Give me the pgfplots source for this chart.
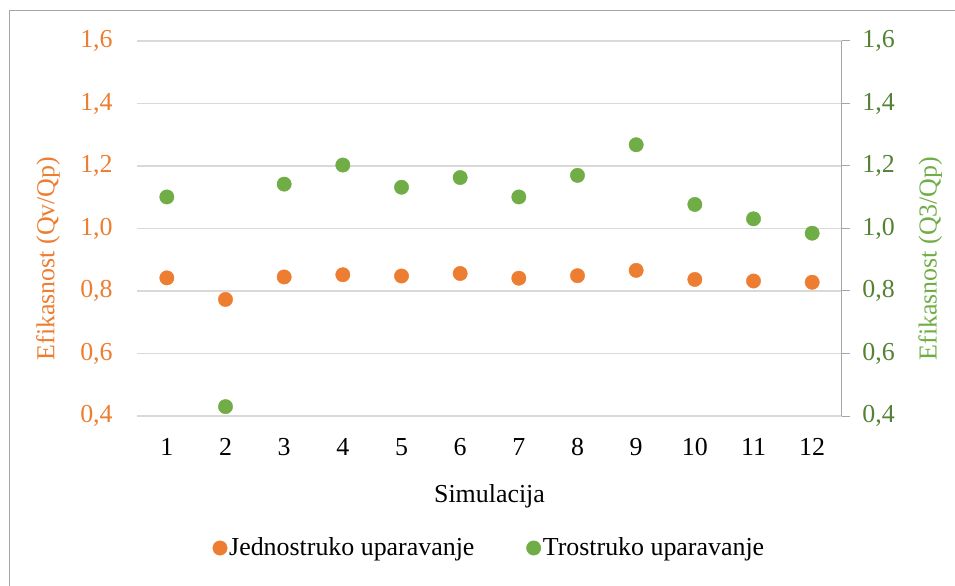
\documentclass[border=0pt]{standalone}
\usepackage{pgfplots}
\pgfplotsset{compat=1.18}
\usepackage{fontspec}
\setmainfont{Liberation Serif}
\definecolor{cOr}{HTML}{ED7D31}
\definecolor{cGr}{HTML}{70AD47}
\definecolor{cGrD}{HTML}{548235}
\definecolor{cGrid}{HTML}{D9D9D9}
\definecolor{cAx}{HTML}{A6A6A6}
\pgfplotstableread{
x y
1 0.842
2 0.773
3 0.845
4 0.852
5 0.848
6 0.856
7 0.841
8 0.849
9 0.866
10 0.837
11 0.832
12 0.828
}\jedno
\pgfplotstableread{
x y
1 1.101
2 0.430
3 1.142
4 1.203
5 1.132
6 1.163
7 1.101
8 1.170
9 1.268
10 1.077
11 1.031
12 0.985
}\tro
\begin{document}
\fontsize{26}{30}\selectfont
\begin{tikzpicture}[x=1bp,y=1bp]
\useasboundingbox (-137.5bp,-170bp) rectangle (817.5bp,416bp);
\draw[cAx, line width=1bp] (-127.5bp,-200bp) rectangle (850bp,405bp);
\pgfplotsset{
  common/.style={
    at={(0,0)}, anchor=south west,
    scale only axis, width=704bp, height=375bp,
    xmin=0.5, xmax=12.5, ymin=0.4, ymax=1.6,
    ytick={0.4,0.6,...,1.6},
    /pgf/number format/.cd, use comma, fixed, fixed zerofill, precision=1, assume math mode=true, /pgfplots/.cd,
    tick label style={font=\fontsize{26}{30}\selectfont},
    label style={font=\fontsize{26}{30}\selectfont},
  }
}
\begin{axis}[common,
  axis y line*=left, axis x line*=bottom,
  y axis line style={draw=none}, x axis line style={draw=none},
  xtick={1,...,12}, xticklabels={1,2,3,4,5,6,7,8,9,10,11,12}, major tick length=0,
  ymajorgrids, grid style={cGrid, line width=1.3bp},
  yticklabel style={text=cOr, xshift=-16bp},
  xticklabel style={text=black, anchor=base, yshift=-39bp},
  xlabel={Simulacija}, xlabel style={at={(0.5,0)}, anchor=base, yshift=-86bp},
  ylabel={Efikasnost (Qv/Qp)}, ylabel style={text=cOr, at={(-0.127,0.42)}, anchor=center},
  legend style={at={(0.5,-0.352)}, anchor=center, draw=none, legend columns=2,
    font=\fontsize{26}{30}\selectfont, /tikz/every even column/.append style={column sep=50bp},
    /tikz/every odd column/.append style={inner xsep=1bp}},
  legend cell align=left,
]
\addplot[only marks, mark=*, mark size=7.2bp, cOr, mark options={draw=none, fill=cOr}] table[x=x,y=y] {\jedno};
\addlegendentry{Jednostruko uparavanje}
\addlegendimage{only marks, mark=*, mark size=7.2bp, cGr, mark options={draw=none, fill=cGr}}
\addlegendentry{Trostruko uparavanje}
\end{axis}
\begin{axis}[common,
  axis y line*=right, axis x line=none,
  y axis line style={cAx, line width=1bp},
  ytick style={cAx, line width=1bp},
  major tick length=8bp, tick align=outside,
  yticklabel style={text=cGrD, xshift=4bp},
  ylabel={Efikasnost (Q3/Qp)}, ylabel style={text=cGr, at={(1.126,0.42)}, anchor=center},
]
\addplot[only marks, mark=*, mark size=7.2bp, cGr, mark options={draw=none, fill=cGr}] table[x=x,y=y] {\tro};
\end{axis}
\end{tikzpicture}
\end{document}
